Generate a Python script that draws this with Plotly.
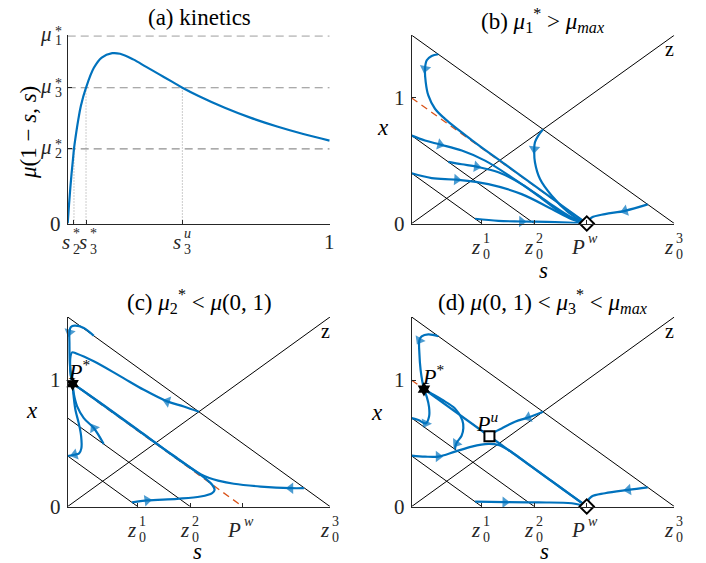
import plotly.graph_objects as go

BLUE = '#0072BD'
RED = '#D95319'
AX = '#262626'
GRAY = '#8f8f8f'
FONT = 'Liberation Serif'

# ---------------- (a) kinetics ----------------
kin_s = [0, 0.005, 0.01, 0.015, 0.02, 0.024, 0.03, 0.04, 0.05, 0.07, 0.1, 0.13, 0.17,
         0.2, 0.25, 0.3, 0.35, 0.4, 0.438, 0.5, 0.6, 0.7, 0.8, 0.9, 1.0]
kin_mu = [0, 0.10, 0.19, 0.27, 0.34, 0.398, 0.46, 0.55, 0.625, 0.724, 0.83, 0.885, 0.908,
          0.905, 0.875, 0.835, 0.795, 0.755, 0.724, 0.68, 0.617, 0.563, 0.517, 0.477, 0.442]
mu_levels = [1.0, 0.724, 0.398]                      # mu1*, mu3*, mu2*
a_ytick_vals = [0, 0.398, 0.724, 1.0]
# (base, superscript, subscript)
a_ytick_lab = [('0', '', ''), ('<i>μ</i>', '*', '2'), ('<i>μ</i>', '*', '3'), ('<i>μ</i>', '*', '1')]
s_marks = [0.024, 0.07, 0.438]                        # s2*, s3*, s3u
s_marks_mu = [0.398, 0.724, 0.724]
a_xtick_vals = [0.024, 0.07, 0.438, 1.0]
a_xtick_lab = [('<i>s</i>', '*', '2'), ('<i>s</i>', '*', '3'), ('<i>s</i>', '<i>u</i>', '3'),
               ('1', '', '')]
a_xtick_nudge = [-2.5, 2.5, 0, 0]   # px, keeps the two close labels side by side

# ---------------- phase planes ----------------
z0_vals = [0.4, 0.7, 1.5]
s_w = 1.0
pp_xtick_vals = [0.4, 0.7, 1.0, 1.5]
pp_xtick_lab = [('<i>z</i>', '1', '0'), ('<i>z</i>', '2', '0'), ('<i>P</i>', '<i>w</i>', ''),
                ('<i>z</i>', '3', '0')]
pp_ytick_vals = [0, 1]
pp_ytick_lab = [('0', '', ''), ('1', '', '')]

# (b)
b_s = [
    [0.152, 0.114, 0.086, 0.076, 0.080, 0.095, 0.133, 0.19, 0.343, 0.533, 0.723, 0.876, 1.0],
    [0.0, 0.076, 0.162, 0.286, 0.419, 0.571, 0.723, 0.876, 1.0],
    [0.209, 0.286, 0.371, 0.495, 0.628, 0.78, 0.914, 1.0],
    [0.0, 0.114, 0.257, 0.438, 0.628, 0.80, 0.914, 1.0],
    [0.362, 0.495, 0.628, 0.819, 1.0],
    [0.75, 0.723, 0.704, 0.70, 0.704, 0.733, 0.80, 0.895, 0.98, 1.0],
    [1.348, 1.218, 1.104, 1.028, 1.005, 1.0],
]
b_x = [
    [1.348, 1.335, 1.30, 1.234, 1.127, 1.02, 0.914, 0.834, 0.665, 0.472, 0.28, 0.125, 0.0],
    [0.7, 0.661, 0.629, 0.581, 0.501, 0.368, 0.221, 0.067, 0.0],
    [0.491, 0.472, 0.453, 0.408, 0.314, 0.168, 0.048, 0.0],
    [0.4, 0.362, 0.349, 0.314, 0.234, 0.115, 0.035, 0.0],
    [0.038, 0.021, 0.016, 0.011, 0.0],
    [0.75, 0.70, 0.647, 0.594, 0.488, 0.354, 0.221, 0.088, 0.01, 0.0],
    [0.152, 0.101, 0.075, 0.048, 0.015, 0.0],
]
b_arrows = [(0, 2, 3), (1, 1, 2), (2, 1, 2), (3, 1, 2), (4, 1, 2), (5, 2, 3), (6, 0, 1)]

# (c)
c_pstar = (0.028, 0.972)
c_s = [
    [0.149, 0.092, 0.040, 0.018, 0.010, 0.010, 0.012, 0.019, 0.028],
    [0.75, 0.664, 0.569, 0.435, 0.302, 0.149, 0.053, 0.025, 0.016, 0.015, 0.022, 0.028],
    [1.351, 1.275, 1.103, 0.95, 0.86, 0.81, 0.76, 0.6, 0.4, 0.2, 0.1, 0.028],
    [0.368, 0.454, 0.626, 0.76, 0.826, 0.84, 0.826, 0.79, 0.6, 0.4, 0.2, 0.1, 0.028],
    [0.206, 0.149, 0.092, 0.054, 0.034, 0.028],
    [0.0, 0.04, 0.065, 0.078, 0.077, 0.063, 0.044, 0.034, 0.028],
]
c_x = [
    [1.351, 1.413, 1.431, 1.42, 1.38, 1.294, 1.135, 1.03, 0.972],
    [0.75, 0.792, 0.832, 0.924, 1.03, 1.149, 1.209, 1.22, 1.188, 1.083, 1.003, 0.972],
    [0.145, 0.145, 0.158, 0.18, 0.205, 0.225, 0.255, 0.408, 0.608, 0.808, 0.906, 0.972],
    [0.032, 0.048, 0.061, 0.079, 0.106, 0.132, 0.172, 0.218, 0.405, 0.605, 0.805, 0.904, 0.972],
    [0.494, 0.621, 0.70, 0.792, 0.898, 0.972],
    [0.4, 0.41, 0.42, 0.46, 0.555, 0.66, 0.766, 0.872, 0.972],
]
c_arrows = [(0, 3, 4), (1, 1, 2), (2, 0, 1), (3, 0, 1), (4, 0, 1), (5, 2, 1)]

# (d)
d_pstar = (0.07, 0.929)
d_pu = (0.444, 0.556)
d_s = [
    [0.152, 0.095, 0.057, 0.044, 0.044, 0.051, 0.061, 0.07],
    [0.75, 0.704, 0.666, 0.59, 0.514, 0.476, 0.444],
    [0.444, 0.07],
    [0.444, 1.0],
    [0.0, 0.076, 0.152, 0.247, 0.343, 0.438, 0.495, 0.552, 0.65, 0.8, 0.9, 1.0],
    [0.247, 0.255, 0.285, 0.295, 0.289, 0.247, 0.171, 0.105, 0.07],
    [0.0, 0.038, 0.08, 0.099, 0.099, 0.086, 0.07],
    [0.362, 0.533, 0.723, 0.914, 1.0],
    [1.348, 1.237, 1.104, 1.028, 1.005, 1.0],
]
d_x = [
    [1.348, 1.363, 1.347, 1.316, 1.21, 1.079, 0.987, 0.929],
    [0.75, 0.724, 0.705, 0.671, 0.618, 0.592, 0.556],
    [0.556, 0.929],
    [0.556, 0.0],
    [0.403, 0.395, 0.395, 0.434, 0.474, 0.495, 0.487, 0.447, 0.352, 0.2, 0.1, 0.0],
    [0.453, 0.50, 0.56, 0.62, 0.684, 0.776, 0.847, 0.90, 0.929],
    [0.7, 0.684, 0.658, 0.711, 0.789, 0.868, 0.929],
    [0.038, 0.034, 0.032, 0.026, 0.0],
    [0.152, 0.132, 0.105, 0.079, 0.04, 0.0],
]
d_arrows = [(0, 2, 3), (1, 1, 2), (4, 1, 2), (5, 2, 1), (6, 3, 2), (7, 0, 1), (8, 0, 1)]

fig = go.Figure()


def line(xs, ys, xa, ya, color, width, dash='solid', shape='linear'):
    fig.add_trace(go.Scatter(x=xs, y=ys, xaxis=xa, yaxis=ya, mode='lines',
                             line=dict(color=color, width=width, dash=dash, shape=shape),
                             showlegend=False, hoverinfo='skip'))


# ---- panel (a)
for v in mu_levels:
    line([0, 1], [v, v], 'x', 'y', GRAY, 1.1, dash='8px,5px')
for sv, mv in zip(s_marks, s_marks_mu):
    line([sv, sv], [0, mv], 'x', 'y', '#9a9a9a', 1, dash='1px,2px')
line(kin_s, kin_mu, 'x', 'y', BLUE, 2.2, shape='spline')


# ---- phase planes
def phase(xa, ya, trs, trx, arrows):
    zmax = z0_vals[-1]
    for z in z0_vals:
        line([0, z], [z, 0], xa, ya, 'black', 1)
    line([0, zmax], [0, zmax], xa, ya, 'black', 1)
    line([0, s_w], [s_w, 0], xa, ya, RED, 1.3, dash='7px,5px')
    for s_, x_ in zip(trs, trx):
        line(s_, x_, xa, ya, BLUE, 2.2, shape='spline')
    for t, i0, i1 in arrows:
        fig.add_trace(go.Scatter(
            x=[trs[t][i0], trs[t][i1]], y=[trx[t][i0], trx[t][i1]], xaxis=xa, yaxis=ya,
            mode='markers', cliponaxis=False,
            marker=dict(symbol='triangle-up', size=[0, 10], color=BLUE, angleref='previous',
                        line=dict(width=0)),
            showlegend=False, hoverinfo='skip'))


phase('x2', 'y2', b_s, b_x, b_arrows)
phase('x3', 'y3', c_s, c_x, c_arrows)
phase('x4', 'y4', d_s, d_x, d_arrows)


def marker(pt, xa, ya, symbol, size, filled):
    fig.add_trace(go.Scatter(
        x=[pt[0]], y=[pt[1]], xaxis=xa, yaxis=ya, mode='markers', cliponaxis=False,
        marker=dict(symbol=symbol, size=size, color='black' if filled else 'white',
                    line=dict(color='black', width=2 if not filled else 0)),
        showlegend=False, hoverinfo='skip'))


marker((s_w, 0), 'x2', 'y2', 'diamond', 11, False)
marker(c_pstar, 'x3', 'y3', 'hexagram', 11, True)
marker(d_pstar, 'x4', 'y4', 'hexagram', 11, True)
marker(d_pu, 'x4', 'y4', 'square', 10, False)
marker((s_w, 0), 'x4', 'y4', 'diamond', 11, False)

# ---- layout (pixel positions measured in the page; the page body has an 8px margin)
W, H = 706, 563
OFF = 8


def px(v):
    return (v - OFF) / W


def py(v):
    return 1 - (v - OFF) / H


XL = [px(67.7), px(330)]
XR = [px(411.7), px(674.3)]
YT = [py(223.5), py(35.2)]
YB = [py(506.5), py(317)]

base = dict(showgrid=False, zeroline=False, showline=True, linecolor=AX, linewidth=1,
            ticks='inside', ticklen=4, tickcolor=AX, tickwidth=1, mirror=False,
            showticklabels=False, automargin=False)

fig.update_layout(
    width=W, height=H, margin=dict(l=0, r=0, t=0, b=0, autoexpand=False),
    paper_bgcolor='white', plot_bgcolor='white', showlegend=False,
    xaxis=dict(base, domain=XL, range=[0, 1.002], anchor='y', tickvals=a_xtick_vals),
    yaxis=dict(base, domain=YT, range=[0, 1.004], anchor='x', tickvals=a_ytick_vals),
    xaxis2=dict(base, domain=XR, range=[0, 1.5], anchor='y2', tickvals=pp_xtick_vals),
    yaxis2=dict(base, domain=YT, range=[0, 1.5], anchor='x2', tickvals=pp_ytick_vals),
    xaxis3=dict(base, domain=XL, range=[0, 1.5], anchor='y3', tickvals=pp_xtick_vals),
    yaxis3=dict(base, domain=YB, range=[0, 1.5], anchor='x3', tickvals=pp_ytick_vals),
    xaxis4=dict(base, domain=XR, range=[0, 1.5], anchor='y4', tickvals=pp_xtick_vals),
    yaxis4=dict(base, domain=YB, range=[0, 1.5], anchor='x4', tickvals=pp_ytick_vals),
)

ann = []


def text(t, x, y, xref='paper', yref='paper', size=23, angle=0, xanchor='center',
         yanchor='middle', xshift=0, yshift=0, color='black'):
    ann.append(dict(text=t, x=x, y=y, xref=xref, yref=yref, showarrow=False,
                    textangle=angle, xanchor=xanchor, yanchor=yanchor, borderpad=0,
                    xshift=xshift, yshift=yshift,
                    font=dict(family=FONT, size=size, color=color)))


BS, SS = 21, 14   # base and script font sizes


def xtick_labels(xa, ya, vals, labs, dy, nudges=None):
    # tick labels under an x axis; scripts stacked (superscript above subscript)
    nudges = nudges or [0] * len(vals)
    for v, (b, sp, sb), n in zip(vals, labs, nudges):
        if not sp and not sb:
            text(b, v, 0, xa, ya + ' domain', size=BS, yshift=dy, xshift=n, color=AX)
            continue
        text(b, v, 0, xa, ya + ' domain', size=BS, xanchor='right', xshift=n - 0.5,
             yshift=dy, color=AX)
        if sp:
            text(sp, v, 0, xa, ya + ' domain', size=SS, xanchor='left', xshift=n + 0.5,
                 yshift=dy + 8, color=AX)
        if sb:
            text(sb, v, 0, xa, ya + ' domain', size=SS, xanchor='left', xshift=n + 0.5,
                 yshift=dy - 8, color=AX)


def ytick_labels(xa, ya, vals, labs, dx):
    for v, (b, sp, sb) in zip(vals, labs):
        if not sp and not sb:
            text(b, 0, v, xa + ' domain', ya, size=BS, xanchor='right', xshift=dx, color=AX)
            continue
        text(b, 0, v, xa + ' domain', ya, size=BS, xanchor='right', xshift=dx - 8.5, yshift=2,
             color=AX)
        text(sp, 0, v, xa + ' domain', ya, size=SS, xanchor='left', xshift=dx - 8,
             yshift=4, color=AX)
        text(sb, 0, v, xa + ' domain', ya, size=SS, xanchor='left', xshift=dx - 8,
             yshift=-5, color=AX)


xtick_labels('x', 'y', a_xtick_vals, a_xtick_lab, -18, a_xtick_nudge)
ytick_labels('x', 'y', a_ytick_vals, a_ytick_lab, -6)
for xa, ya in (('x2', 'y2'), ('x3', 'y3'), ('x4', 'y4')):
    xtick_labels(xa, ya, pp_xtick_vals, pp_xtick_lab, -23)
    ytick_labels(xa, ya, pp_ytick_vals, pp_ytick_lab, -6)

# titles
text('(a) kinetics', px(199), py(18))
text('(b) <i>μ</i><sub>1</sub><sup>*</sup> > <i>μ</i><sub><i>max</i></sub>', px(543), py(21))
text('(c) <i>μ</i><sub>2</sub><sup>*</sup> < <i>μ</i>(0, 1)', px(199), py(301))
text('(d) <i>μ</i>(0, 1) < <i>μ</i><sub>3</sub><sup>*</sup> < <i>μ</i><sub><i>max</i></sub>',
     px(543), py(301))
# axis titles
text('<i>μ</i>(1 − <i>s</i>, <i>s</i>)', px(28), py(133), angle=-90)
text('<i>x</i>', px(383), py(128))
text('<i>s</i>', px(543), py(270))
text('<i>x</i>', px(32), py(410))
text('<i>s</i>', px(198), py(551))
text('<i>x</i>', px(377), py(412))
text('<i>s</i>', px(544), py(551))
# in-plot labels
for xa, ya in (('x2', 'y2'), ('x3', 'y3'), ('x4', 'y4')):
    text('z', 1.472, 1.393, xa, ya, size=20)
text('<i>P</i><sup>*</sup>', 0.067, 1.083, 'x3', 'y3', size=22)
text('<i>P</i><sup>*</sup>', 0.12, 1.041, 'x4', 'y4', size=22)
text('<i>P</i><sup><i>u</i></sup>', 0.43, 0.665, 'x4', 'y4', size=22)

fig.update_layout(annotations=ann)
fig.write_html('out.html')
